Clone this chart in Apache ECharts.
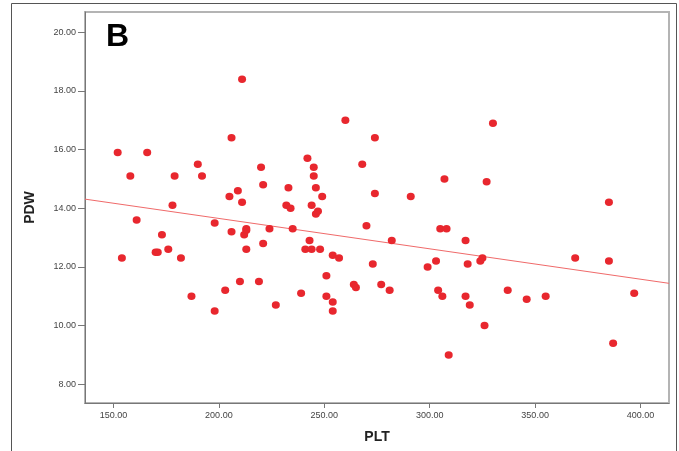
<!DOCTYPE html>
<html>
<head>
<meta charset="utf-8">
<script src="https://cdn.jsdelivr.net/npm/echarts@6/dist/echarts.min.js"></script>
<style>html,body{margin:0;padding:0;background:#fff}#c{width:679px;height:451px}</style>
</head>
<body>
<div id="c"></div>
<script>
var pltValues = [152,154,158,161,166,170,171,173,176,178,179,182,187,190,192,198,198,203,205,206,206,209,210,211,211,212,213,213,213,219,220,221,221,224,227,232,233,234,235,239,241,242,243,244,244,245,245,246,246,247,248,249,251,251,254,254,254,257,260,264,265,268,270,273,274,274,277,281,282,291,299,303,304,305,306,307,308,309,317,317,318,319,324,325,326,327,330,337,346,355,369,385,385,387,397];
var pdwValues = [15.9,12.3,15.1,13.6,15.9,12.5,12.5,13.1,12.6,14.1,15.1,12.3,11.0,15.5,15.1,13.5,10.5,11.2,14.4,16.4,13.2,14.6,11.5,18.4,14.2,13.1,13.25,13.3,12.6,11.5,15.4,14.8,12.8,13.3,10.7,14.1,14.7,14.0,13.3,11.1,12.6,15.7,12.9,12.6,14.1,15.4,15.1,14.7,13.8,13.9,12.6,14.4,11.7,11.0,12.4,10.8,10.5,12.3,17.0,11.4,11.3,15.5,13.4,12.1,16.4,14.5,11.4,11.2,12.9,14.4,12.0,12.2,11.2,13.3,11.0,15.0,13.3,9.0,12.9,11.0,12.1,10.7,12.2,12.3,10.0,14.9,16.9,11.2,10.9,11.0,12.3,14.2,12.2,9.4,11.1];
var fitLineX = [136.5, 413.5];
var fitLineY = [14.31, 11.44];
var xTickValues = [150,200,250,300,350,400];
var yTickValues = [8,10,12,14,16,18,20];
var panelLabel = 'B';
var xName = 'PLT';
var yName = 'PDW';

var points = pltValues.map(function(v, i){ return [v, pdwValues[i]]; });
var fit = fitLineX.map(function(v, i){ return [v, fitLineY[i]]; });

var chart = echarts.init(document.getElementById('c'));
chart.setOption({
  animation: false,
  backgroundColor: '#fff',
  title: {
    text: panelLabel, left: 106, top: 21, padding: 0,
    textStyle: {fontFamily: 'Liberation Sans, Arial', fontWeight: 'bold', fontSize: 32, color: '#000'}
  },
  graphic: [{
    type: 'rect', silent: true,
    shape: {x: 11.5, y: 3.5, width: 665, height: 460},
    style: {fill: 'none', stroke: '#555', lineWidth: 1}
  }],
  grid: {left: 85, right: 10, top: 12, bottom: 48, show: true, borderColor: '#b4b4b4', borderWidth: 2, backgroundColor: '#fff'},
  xAxis: {
    type: 'value', min: 136.5, max: 413.5,
    name: xName, nameLocation: 'middle', nameGap: 27,
    nameTextStyle: {fontFamily: 'Liberation Sans, Arial', fontWeight: 'bold', fontSize: 14, color: '#222'},
    axisLine: {show: true, lineStyle: {color: '#777', width: 1}},
    axisTick: {show: true, length: 5, customValues: xTickValues, lineStyle: {color: '#777'}},
    axisLabel: {customValues: xTickValues, margin: 8, fontFamily: 'Liberation Sans, Arial', fontSize: 9, color: '#444',
      formatter: function(v){ return v.toFixed(2); }},
    splitLine: {show: false}
  },
  yAxis: {
    type: 'value', min: 7.36, max: 20.69,
    name: yName, nameLocation: 'middle', nameGap: 48, nameRotate: 90,
    nameTextStyle: {fontFamily: 'Liberation Sans, Arial', fontWeight: 'bold', fontSize: 14, color: '#222'},
    axisLine: {show: true, lineStyle: {color: '#777', width: 1}},
    axisTick: {show: true, length: 7, customValues: yTickValues, lineStyle: {color: '#777'}},
    axisLabel: {customValues: yTickValues, margin: 9, fontFamily: 'Liberation Sans, Arial', fontSize: 9, color: '#444',
      formatter: function(v){ return v.toFixed(2); }},
    splitLine: {show: false}
  },
  series: [{
    type: 'line', data: fit, showSymbol: false, symbol: 'none',
    lineStyle: {color: '#f06a6a', width: 1}, z: 2, silent: true
  }, {
    type: 'scatter', data: points, symbol: 'circle', symbolSize: [8, 7.5],
    itemStyle: {color: '#e8272e', opacity: 1}, z: 3
  }]
});
</script>
</body>
</html>
